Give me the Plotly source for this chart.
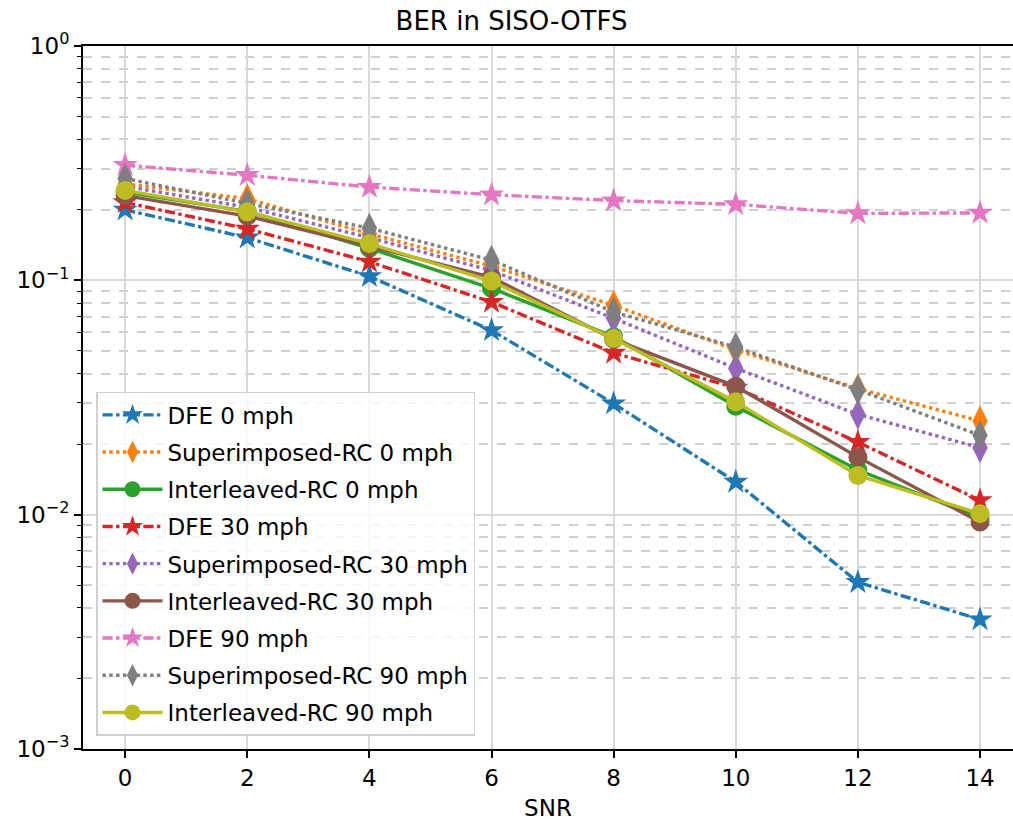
import plotly.graph_objects as go

# SNR points (dB) and measured bit error rates
snr = [0, 2, 4, 6, 8, 10, 12, 14]

dfe_0 = [0.200, 0.152, 0.104, 0.0612, 0.0298, 0.0138, 0.00515, 0.00357]
sup_0 = [0.258, 0.223, 0.158, 0.115, 0.0782, 0.0505, 0.0345, 0.0251]
int_0 = [0.238, 0.197, 0.137, 0.0925, 0.0575, 0.0290, 0.0155, 0.0097]
dfe_30 = [0.215, 0.166, 0.120, 0.0808, 0.0490, 0.0348, 0.0204, 0.0115]
sup_30 = [0.252, 0.205, 0.152, 0.110, 0.0689, 0.0421, 0.0268, 0.0193]
int_30 = [0.230, 0.188, 0.140, 0.103, 0.0560, 0.0353, 0.0176, 0.0093]
dfe_90 = [0.310, 0.281, 0.250, 0.232, 0.219, 0.211, 0.193, 0.194]
sup_90 = [0.272, 0.213, 0.167, 0.122, 0.0733, 0.0519, 0.0341, 0.0218]
int_90 = [0.242, 0.196, 0.1435, 0.0993, 0.0564, 0.0303, 0.0147, 0.0101]

series = [
    ("DFE 0 mph", dfe_0, "#1f77b4", "dashdot", "star"),
    ("Superimposed-RC 0 mph", sup_0, "#ff7f0e", "dot", "diamond-tall"),
    ("Interleaved-RC 0 mph", int_0, "#2ca02c", "solid", "circle"),
    ("DFE 30 mph", dfe_30, "#d62728", "dashdot", "star"),
    ("Superimposed-RC 30 mph", sup_30, "#9467bd", "dot", "diamond-tall"),
    ("Interleaved-RC 30 mph", int_30, "#8c564b", "solid", "circle"),
    ("DFE 90 mph", dfe_90, "#e377c2", "dashdot", "star"),
    ("Superimposed-RC 90 mph", sup_90, "#7f7f7f", "dot", "diamond-tall"),
    ("Interleaved-RC 90 mph", int_90, "#bcbd22", "solid", "circle"),
]

FONT = "DejaVu Sans"

fig = go.Figure()
for i, (name, vals, color, dash, symbol) in enumerate(series):
    size = {"star": 19, "diamond-tall": 22, "circle": 19}[symbol]
    fig.add_trace(go.Scatter(
        x=snr, y=vals, name=name, mode="lines+markers",
        legendgroup=f"g{i}",
        line=dict(color=color, width=3.4, dash=dash),
        marker=dict(symbol=symbol, size=size, color=color,
                    line=dict(width=0)),
    ))

major_vals = [1e-3, 1e-2, 1e-1, 1e0]
major_text = ["10<sup>\u22123</sup>", "10<sup>\u22122</sup>",
              "10<sup>\u22121</sup>", "10<sup>0</sup>"]
minor_vals = [k * 10.0 ** e for e in (-3, -2, -1) for k in range(2, 10)]

fig.update_layout(
    width=1013, height=824,
    margin=dict(l=83, r=0, t=46, b=75),
    paper_bgcolor="white", plot_bgcolor="white",
    font=dict(family=FONT, size=23, color="black"),
    title=dict(text="BER in SISO-OTFS", x=0.505, xanchor="center",
               y=1 - 21 / 824, yanchor="middle", yref="container",
               font=dict(size=26)),
    showlegend=True,
    legend=dict(
        x=0.014, y=0.508, xanchor="left", yanchor="top",
        bgcolor="rgba(255,255,255,0.8)", bordercolor="#d0d0d0",
        borderwidth=1.5, font=dict(size=23),
        traceorder="grouped", tracegroupgap=4.3, itemwidth=60,
    ),
    xaxis=dict(
        range=[-0.69, 14.54], tickvals=snr, ticks="outside",
        ticklen=7, tickwidth=1.6, tickcolor="black",
        showline=True, linecolor="black", linewidth=2, mirror=True,
        showgrid=True, gridcolor="#d9d9d9", gridwidth=1.8,
        zeroline=False,
        title=dict(text="SNR", standoff=10, font=dict(size=23)),
    ),
    yaxis=dict(
        type="log", range=[-3, 0],
        tickvals=major_vals, ticktext=major_text,
        ticks="outside", ticklen=7, tickwidth=1.6, tickcolor="black",
        showline=True, linecolor="black", linewidth=2, mirror=False,
        showgrid=True, gridcolor="#d9d9d9", gridwidth=1.8,
        zeroline=False,
        minor=dict(tickvals=minor_vals, ticks="outside", ticklen=4,
                   tickwidth=1.2, tickcolor="black", showgrid=True,
                   gridcolor="#d0d0d0", gridwidth=1.5, griddash="dash"),
    ),
)

fig.write_html("out.html")
